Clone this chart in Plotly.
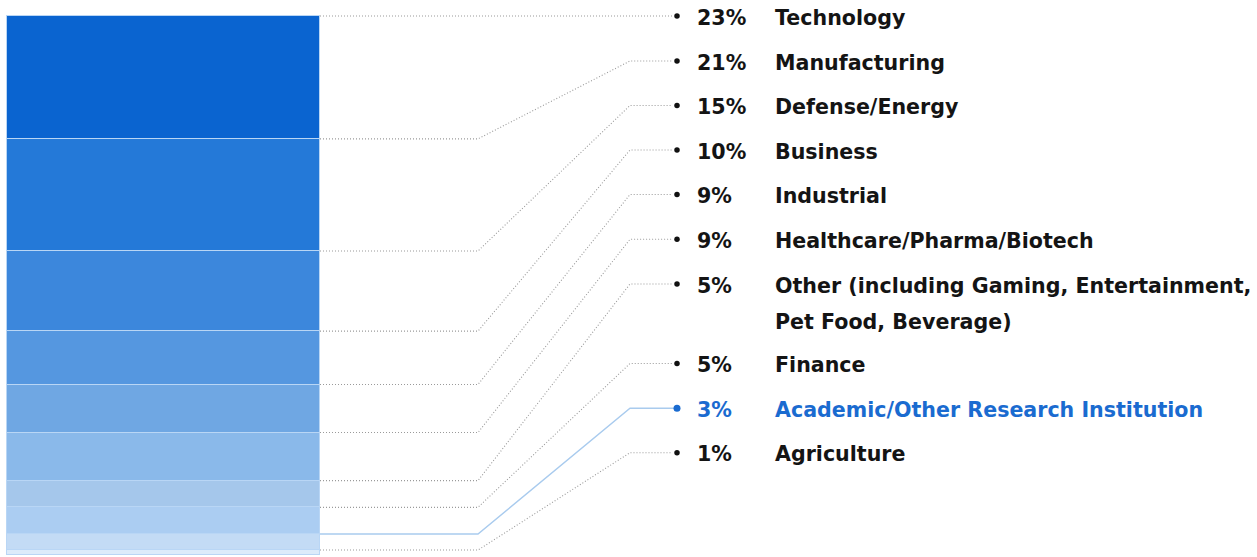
import plotly.graph_objects as go

# Share of respondents by industry (percent), listed top to bottom of the stack
industries = [
    "Technology",
    "Manufacturing",
    "Defense/Energy",
    "Business",
    "Industrial",
    "Healthcare/Pharma/Biotech",
    "Other (including Gaming, Entertainment,<br>Pet Food, Beverage)",
    "Finance",
    "Academic/Other Research Institution",
    "Agriculture",
]
shares = [23, 21, 15, 10, 9, 9, 5, 5, 3, 1]
pct_labels = ["23%", "21%", "15%", "10%", "9%", "9%", "5%", "5%", "3%", "1%"]

seg_colors = [
    "#0a64d0", "#2479d8", "#3c87dc", "#5597e0", "#6fa7e3",
    "#8ab9ea", "#a5c7eb", "#abcdf2", "#c3dbf5", "#dcebfa",
]
highlight = "Academic/Other Research Institution"
HL_COLOR = "#1a6bd0"
FONT = "DejaVu Sans, Arial, sans-serif"
FONT_SIZE = 20.6

W, H = 1257, 557
# vertical scale: value 0 sits at y_px0, one percent is px_per_unit pixels
y_px0 = 555.4
px_per_unit = 5.3406
y_top = y_px0 / px_per_unit
y_bot = (y_px0 - H) / px_per_unit


def px_to_val(ypx):
    return (y_px0 - ypx) / px_per_unit


# label rows (pixel rows from the top), elbows of the connectors
row_px = [16, 61, 105.5, 150, 194.5, 239.3, 284, 363.5, 408.3, 452.7]
LINE_GAP_PX = 36
TEXT_DROP_PX = 1.5
BAR_L, BAR_R = 7, 320
ELBOW1, ELBOW2, LINE_END, DOT_X = 478, 630, 672, 677
PCT_X, NAME_X = 695, 773

fig = go.Figure()

# stacked column, bottom trace first
for name, val, col in reversed(list(zip(industries, shares, seg_colors))):
    fig.add_trace(go.Bar(
        x=[(BAR_L + BAR_R) / 2], y=[val], width=[BAR_R - BAR_L],
        marker=dict(color=col, line=dict(color="#b9d6f5", width=1.2)),
        name=name, showlegend=False, hoverinfo="skip",
    ))

# top of every segment in stack units
tops = []
acc = sum(shares)
for v in shares:
    tops.append(acc)
    acc -= v

for i, name in enumerate(industries):
    top = tops[i]
    row = px_to_val(row_px[i])
    is_hl = name == highlight
    fig.add_trace(go.Scatter(
        x=[BAR_R, ELBOW1, ELBOW2, DOT_X if is_hl else LINE_END],
        y=[top, top, row, row],
        mode="lines",
        line=dict(color="#a9cbee" if is_hl else "#9a9a9a",
                  width=1.4 if is_hl else 1.1,
                  dash="solid" if is_hl else "1px,2px"),
        showlegend=False, hoverinfo="skip",
    ))
    fig.add_trace(go.Scatter(
        x=[DOT_X], y=[row], mode="markers",
        marker=dict(color=HL_COLOR if is_hl else "#111111",
                    size=7 if is_hl else 5.5),
        showlegend=False, hoverinfo="skip",
    ))
    col = HL_COLOR if is_hl else "#141414"
    fig.add_annotation(
        x=PCT_X, y=px_to_val(row_px[i] + TEXT_DROP_PX),
        text="<b>%s</b>" % pct_labels[i],
        xanchor="left", yanchor="middle", showarrow=False,
        font=dict(family=FONT, size=FONT_SIZE, color=col),
    )
    for k, line in enumerate(name.split("<br>")):
        fig.add_annotation(
            x=NAME_X, y=px_to_val(row_px[i] + TEXT_DROP_PX + k * LINE_GAP_PX),
            text="<b>%s</b>" % line,
            xanchor="left", yanchor="middle", showarrow=False,
            font=dict(family=FONT, size=FONT_SIZE, color=col),
        )

fig.update_layout(
    width=W, height=H,
    margin=dict(l=0, r=0, t=0, b=0),
    paper_bgcolor="white", plot_bgcolor="white",
    barmode="stack", bargap=0,
    xaxis=dict(range=[0, W], visible=False, fixedrange=True),
    yaxis=dict(range=[y_bot, y_top], visible=False, fixedrange=True),
    showlegend=False,
)

fig.write_html("out.html")
